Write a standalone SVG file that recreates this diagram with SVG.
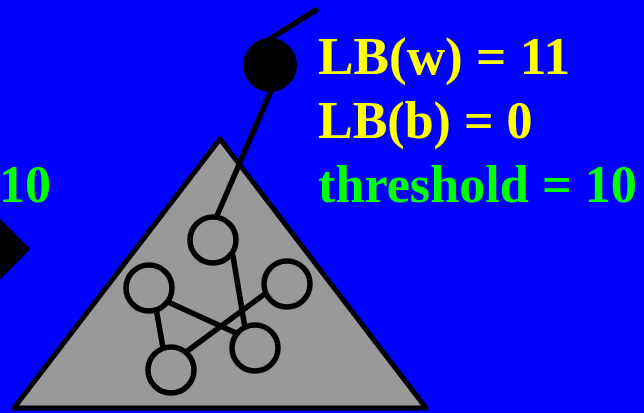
<svg xmlns="http://www.w3.org/2000/svg" width="644" height="413" viewBox="0 0 644 413">
<style>
.t{font-family:"Liberation Serif","Times New Roman",serif;font-weight:bold;font-size:52px}
.y{fill:#FFFF00}
.g{fill:#00FF00}
.e{stroke:#000;stroke-width:5.5;stroke-linecap:round;fill:none}
.n{fill:#999999;stroke:#000;stroke-width:5.5}
</style>
<rect width="644" height="413" fill="#0000FF"/>
<g id="diamond"><polygon points="29,249 -5,215 -39,249 -5,283" fill="#000" stroke="#000" stroke-width="2" stroke-linejoin="round"/></g>
<g id="left-label"><text class="t g" x="-1" y="202">10</text></g>
<g id="subtree"><polygon points="220,139 14,408 426,408" fill="#999999" stroke="#000" stroke-width="5" stroke-linejoin="round"/></g>
<g id="connectors">
<line class="e" x1="262" y1="44" x2="316" y2="10"/>
<line class="e" x1="273" y1="86" x2="216" y2="218"/>
<line class="e" x1="233" y1="256" x2="245" y2="328"/>
<line class="e" x1="168" y1="302" x2="236" y2="333"/>
<line class="e" x1="156" y1="308" x2="163" y2="348"/>
<line class="e" x1="266" y1="293" x2="186" y2="352"/>
</g>
<g id="root"><circle cx="270" cy="65" r="27" fill="#000"/></g>
<g id="n1"><circle class="n" cx="213" cy="240" r="23"/></g>
<g id="n2"><circle class="n" cx="149" cy="288" r="23"/></g>
<g id="n3"><circle class="n" cx="287" cy="284" r="23"/></g>
<g id="n4"><circle class="n" cx="171" cy="370" r="23"/></g>
<g id="n5"><circle class="n" cx="255" cy="348" r="23"/></g>
<g id="labels">
<text class="t y" x="318" y="74" textLength="252" lengthAdjust="spacingAndGlyphs">LB(w) = 11</text>
<text class="t y" x="318" y="138">LB(b) = 0</text>
<text class="t g" x="318" y="202" textLength="319" lengthAdjust="spacingAndGlyphs">threshold = 10</text>
</g>
</svg>
